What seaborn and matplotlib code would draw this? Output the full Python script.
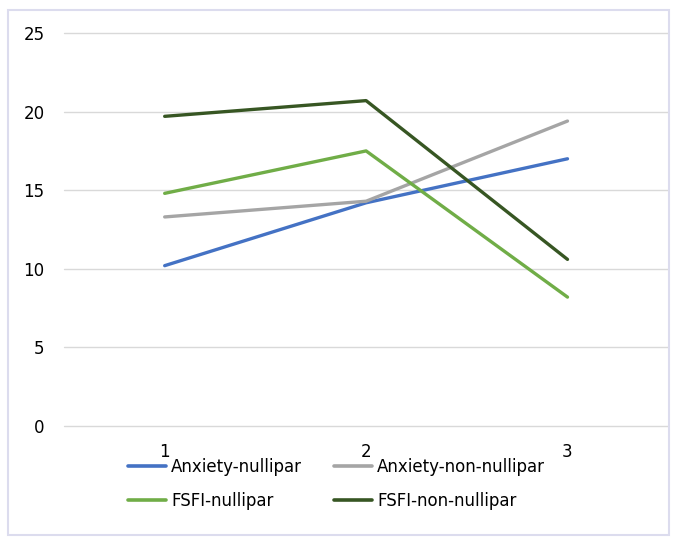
import matplotlib
matplotlib.use("Agg")
import matplotlib.pyplot as plt
import seaborn as sns
import pandas as pd
from matplotlib.patches import Rectangle

categories = ["1", "2", "3"]
anxiety_nullipar = [10.2, 14.2, 17.0]
anxiety_non_nullipar = [13.3, 14.3, 19.4]
fsfi_nullipar = [14.8, 17.5, 8.2]
fsfi_non_nullipar = [19.7, 20.7, 10.6]
series_names = ["Anxiety-nullipar", "Anxiety-non-nullipar", "FSFI-nullipar", "FSFI-non-nullipar"]
y_ticks = [0, 5, 10, 15, 20, 25]

colors = ["#4472C4", "#A5A5A5", "#70AD47", "#375623"]

rows = []
for name, vals in zip(series_names, [anxiety_nullipar, anxiety_non_nullipar, fsfi_nullipar, fsfi_non_nullipar]):
    for i, v in enumerate(vals):
        rows.append({"x": i, "value": v, "series": name})
df = pd.DataFrame(rows)

sns.set_theme(style="white")
plt.rcParams["font.family"] = ["DejaVu Sans"]
plt.rcParams["text.color"] = "#000000"

fig = plt.figure(figsize=(6.77, 5.44), dpi=100)
ax = fig.add_axes([0.0945, 0.2169, 0.8925, 0.7224])

for y in y_ticks:
    ax.axhline(y, color="#d9d9d9", lw=1.0, zorder=0, clip_on=False)

sns.lineplot(data=df, x="x", y="value", hue="series", hue_order=series_names,
             palette=colors, linewidth=2.4, ax=ax, legend=True, sort=False)

ax.set_xlim(-0.5, 2.5)
ax.set_ylim(0, 25)
ax.set_xticks(range(len(categories)))
ax.set_xticklabels(categories)
ax.set_yticks(y_ticks)
ax.set_xlabel("")
ax.set_ylabel("")
for s in ax.spines.values():
    s.set_visible(False)
ax.tick_params(axis="both", length=0, labelsize=12, colors="#000000")
ax.tick_params(axis="y", pad=14)
ax.tick_params(axis="x", pad=12)

handles, labels = ax.get_legend_handles_labels()
ax.get_legend().remove()
for h in handles:
    h.set_linewidth(2.6)
order = [0, 2, 1, 3]
leg = fig.legend([handles[i] for i in order], [labels[i] for i in order],
                 loc="center", bbox_to_anchor=(0.497, 0.111), ncol=2,
                 frameon=False, fontsize=12, handlelength=2.3, handletextpad=0.3,
                 columnspacing=1.9, labelspacing=0.95)
for t in leg.get_texts():
    t.set_color("#000000")

fig.patches.append(Rectangle((8 / 677, 9 / 544), 661 / 677, 525 / 544,
                             transform=fig.transFigure, fill=False,
                             edgecolor="#dcdcee", lw=1.5))

fig.savefig("out.png", dpi=100)
